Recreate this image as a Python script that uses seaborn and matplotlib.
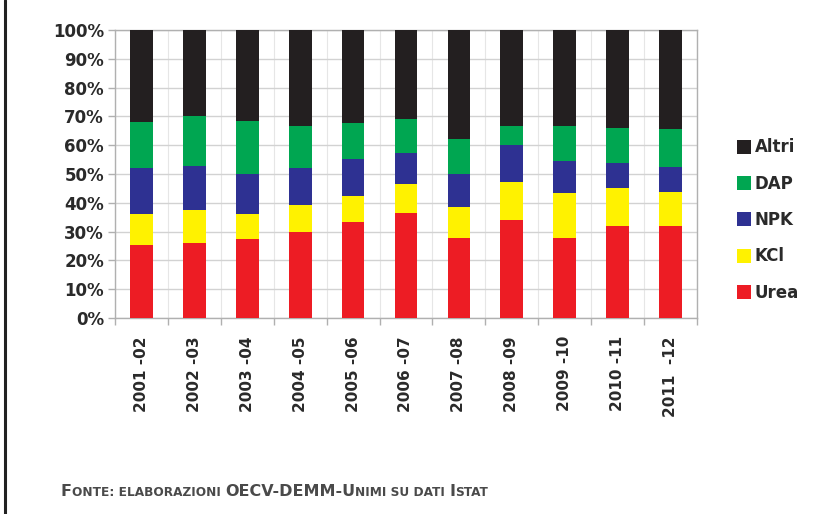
import numpy as np
import pandas as pd
import matplotlib
matplotlib.use("Agg")
import matplotlib.pyplot as plt
from matplotlib.patches import Patch
from matplotlib.lines import Line2D
from matplotlib.offsetbox import TextArea, HPacker, AnchoredOffsetbox
from matplotlib.ticker import FixedLocator, PercentFormatter
import seaborn as sns

# ---- data (shares in %) ----
periods = ["2001 -02", "2002 -03", "2003 -04", "2004 -05", "2005 -06", "2006 -07",
           "2007 -08", "2008 -09", "2009 -10", "2010 -11", "2011  -12"]
urea = [25.2, 26.2, 27.5, 29.7, 33.3, 36.5, 27.7, 33.9, 27.7, 32.0, 32.0]
kcl = [10.9, 11.4, 8.6, 9.6, 9.2, 10.0, 11.0, 13.2, 15.7, 13.1, 11.6]
npk = [15.9, 15.2, 13.8, 12.7, 12.6, 10.7, 11.2, 13.0, 11.2, 8.7, 9.0]
dap = [16.2, 17.4, 18.5, 14.8, 12.5, 11.8, 12.2, 6.7, 12.1, 12.1, 12.9]
altri = [31.8, 29.8, 31.6, 33.2, 32.4, 31.0, 37.9, 33.2, 33.3, 34.1, 34.5]

series_names = ["Urea", "KCl", "NPK", "DAP", "Altri"]
series_vals = [urea, kcl, npk, dap, altri]
colors = {"Urea": "#ED1C24", "KCl": "#FFF200", "NPK": "#2E3192",
          "DAP": "#00A651", "Altri": "#231F20"}

df = pd.DataFrame({"period": periods})
cum = np.zeros(len(periods))
for name, vals in zip(series_names, series_vals):
    cum = cum + np.array(vals)
    df["cum_" + name] = cum.copy()

sns.set_theme(style="white")
plt.rcParams["font.family"] = ["DejaVu Sans"]

W, H = 829, 514
fig = plt.figure(figsize=(W / 100, H / 100), dpi=100)
ax = fig.add_axes([115 / W, 1 - 318 / H, (697 - 115) / W, (318 - 30) / H])

# draw from top (largest cumulative) down so lower segments overlay
for name in reversed(series_names):
    sns.barplot(data=df, x="period", y="cum_" + name, color=colors[name],
                saturation=1, width=0.43, errorbar=None, ax=ax, zorder=3,
                linewidth=0)

ax.set_xlim(-0.5, len(periods) - 0.5)
ax.set_ylim(0, 100)
ax.set_xlabel("")
ax.set_ylabel("")

# grid
grid_c = "#d2d2d2"
ax.yaxis.set_major_locator(FixedLocator(np.arange(0, 101, 10)))
ax.yaxis.set_major_formatter(PercentFormatter(decimals=0))
ax.grid(axis="y", color=grid_c, lw=1.0, zorder=0)
ax.xaxis.set_minor_locator(FixedLocator(np.arange(-0.5, len(periods), 1.0)))
ax.grid(axis="x", which="minor", color="#e6e6e6", lw=0.8, zorder=0)
ax.grid(axis="x", which="major", visible=False)
ax.set_axisbelow(True)

for sp in ax.spines.values():
    sp.set_visible(True)
    sp.set_color("#b0b0b0")
    sp.set_linewidth(1.0)

ax.tick_params(axis="y", which="major", left=True, length=5, width=1,
               color="#b0b0b0", pad=3, labelsize=12, labelcolor="#2a2a2a")
ax.tick_params(axis="x", which="major", bottom=False, length=0, pad=13,
               labelsize=11, labelcolor="#2a2a2a")
ax.tick_params(axis="x", which="minor", bottom=True, length=5, width=1,
               color="#b0b0b0")
for lab in ax.get_yticklabels():
    lab.set_fontweight("bold")
for lab in ax.get_xticklabels():
    lab.set_rotation(90)
    lab.set_fontweight("bold")
    lab.set_va("top")
    lab.set_ha("center")

# legend
handles = [Patch(facecolor=colors[n], edgecolor="none") for n in reversed(series_names)]
labels = list(reversed(series_names))
fig.legend(handles, labels, loc="center left",
           bbox_to_anchor=(737 / W, 1 - 220 / H), bbox_transform=fig.transFigure,
           frameon=False, borderpad=0, borderaxespad=0,
           handlelength=0.85, handleheight=0.9, handletextpad=0.2,
           labelspacing=1.1, prop={"weight": "bold", "size": 12},
           labelcolor="#2a2a2a")

# left frame line
fig.add_artist(Line2D([5 / W, 5 / W], [0, 1], transform=fig.transFigure,
                      color="#222222", lw=2.2))

# source note in small caps
big, small = 11.5, 8.7
tc = "#4a4a4a"
parts = [("F", big), ("ONTE: ELABORAZIONI ", small), ("OECV-DEMM-U", big),
         ("NIMI SU DATI ", small), ("I", big), ("STAT", small)]
areas = [TextArea(t, textprops=dict(size=s, color=tc, fontweight="bold"))
         for t, s in parts]
pack = HPacker(children=areas, align="baseline", pad=0, sep=0)
box = AnchoredOffsetbox(loc="center left", child=pack, pad=0, borderpad=0,
                        frameon=False, bbox_to_anchor=(61 / W, 1 - 492 / H),
                        bbox_transform=fig.transFigure)
fig.add_artist(box)

fig.savefig("out.png", dpi=100, facecolor="white")
